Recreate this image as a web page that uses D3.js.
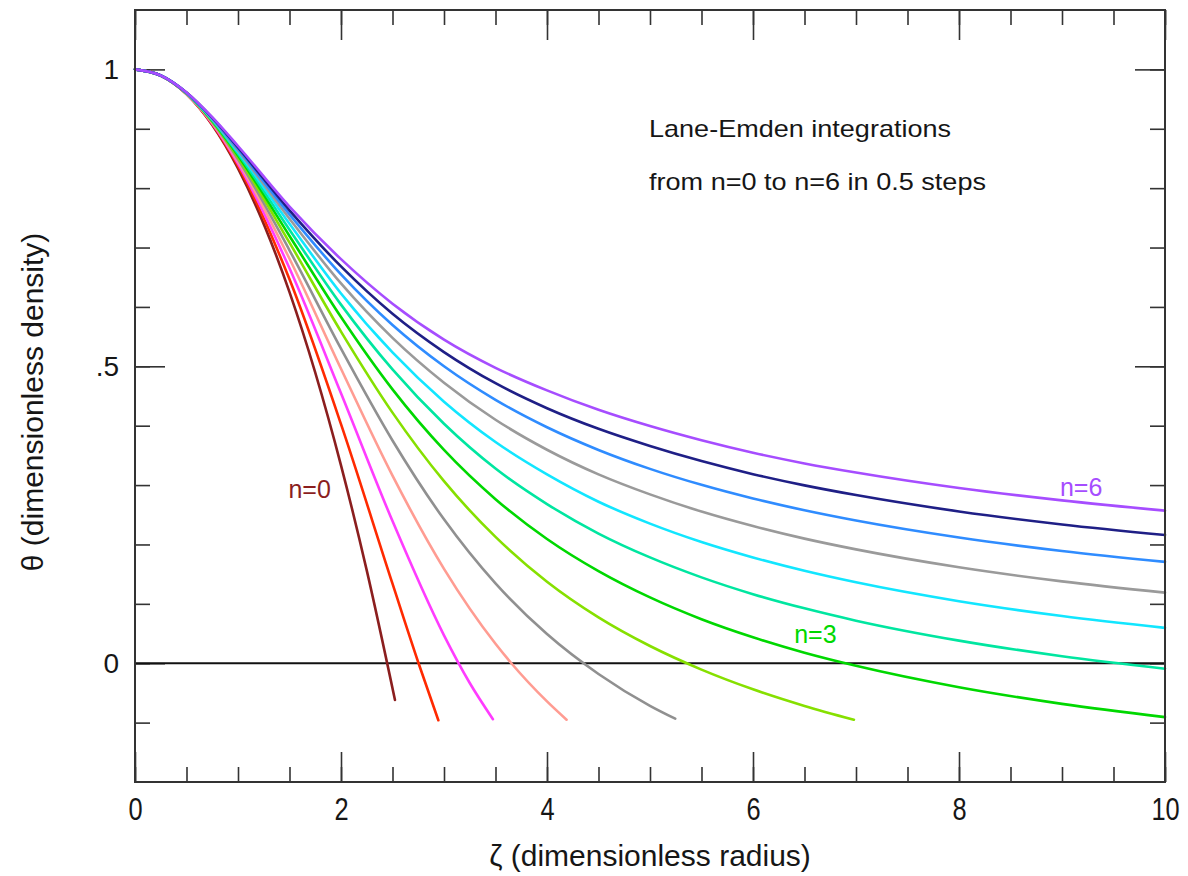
<!DOCTYPE html>
<html>
<head>
<meta charset="utf-8">
<script src="https://cdn.jsdelivr.net/npm/d3@7"></script>
<style>
  body { margin: 0; background: #fff; }
  svg { display: block; }
  text { font-family: "Liberation Sans", Arial, Helvetica, sans-serif; fill: #161616; }
</style>
</head>
<body>
<div id="chart"></div>
<script>
/* DATA: theta vs zeta, one array per index n */
const n0   = [[0,1],[0.25,0.9896],[0.5,0.9583],[0.75,0.9063],[1,0.8333],[1.5,0.625],[2,0.3333],[2.25,0.1563],[2.524,-0.0618]];
const n0_5 = [[0,1],[0.25,0.9896],[0.5,0.9586],[0.75,0.9076],[1,0.8375],[1.5,0.6465],[2,0.4026],[2.5,0.134],[2.753,0],[2.945,-0.096]];
const n1   = [[0,1],[0.25,0.9896],[0.5,0.9589],[0.75,0.9089],[1,0.8415],[1.5,0.665],[2,0.4546],[2.5,0.2394],[3,0.047],[3.25,-0.0333],[3.475,-0.0942]];
const n1_5 = [[0,1],[0.25,0.9896],[0.5,0.9591],[0.75,0.9101],[1,0.8452],[1.5,0.6811],[2,0.4959],[2.5,0.3159],[3,0.159],[3.5,0.0328],[3.654,0],[4,-0.0643],[4.19,-0.0951]];
const n2   = [[0,1],[0.25,0.9896],[0.5,0.9594],[0.75,0.9113],[1,0.8487],[1.5,0.6954],[2,0.5297],[2.5,0.3751],[3,0.2423],[3.5,0.1344],[4,0.0491],[4.5,-0.0181],[5,-0.0717],[5.245,-0.0934]];
const n2_5 = [[0,1],[0.25,0.9896],[0.5,0.9596],[0.75,0.9124],[1,0.8519],[1.5,0.7082],[2,0.5585],[2.5,0.422],[3,0.3066],[3.5,0.2127],[4,0.1372],[4.5,0.0772],[5,0.029],[5.5,-0.0107],[6,-0.0439],[6.5,-0.0719],[6.98,-0.0952]];
const n3   = [[0,1],[0.25,0.9896],[0.5,0.9598],[0.75,0.9136],[1,0.8551],[1.5,0.7195],[2,0.5829],[2.5,0.4611],[3,0.3592],[3.5,0.2763],[4,0.2092],[4.5,0.1551],[5,0.1108],[5.5,0.0741],[6,0.0437],[6.5,0.0177],[7,-0.0043],[8,-0.0404],[9,-0.0684],[10,-0.0908]];
const n3_5 = [[0,1],[0.25,0.9897],[0.5,0.9601],[0.75,0.9146],[1,0.858],[1.5,0.73],[2,0.6039],[2.5,0.4947],[3,0.4032],[3.5,0.3278],[4,0.268],[4.5,0.2184],[5,0.1782],[5.5,0.1446],[6,0.1163],[6.5,0.0924],[7,0.0717],[8,0.0381],[9,0.0118],[10,-0.0092]];
const n4   = [[0,1],[0.25,0.9897],[0.5,0.9604],[0.75,0.9157],[1,0.8608],[1.5,0.74],[2,0.6227],[2.5,0.5233],[3,0.4404],[3.5,0.3725],[4,0.318],[4.5,0.272],[5,0.2351],[5.5,0.2041],[6,0.1781],[6.5,0.1556],[7,0.1362],[8,0.1044],[9,0.0795],[10,0.0596]];
const n4_5 = [[0,1],[0.25,0.9897],[0.5,0.9605],[0.75,0.9167],[1,0.8635],[1.5,0.7485],[2,0.6395],[2.5,0.5479],[3,0.4724],[3.5,0.41],[4,0.3595],[4.5,0.318],[5,0.2843],[5.5,0.2554],[6,0.231],[6.5,0.2098],[7,0.1917],[8,0.1616],[9,0.1379],[10,0.1189]];
const n5   = [[0,1],[0.25,0.9897],[0.5,0.9608],[0.75,0.9177],[1,0.866],[1.5,0.7559],[2,0.6547],[2.5,0.5695],[3,0.5],[3.5,0.4435],[4,0.3974],[4.5,0.3592],[5,0.3273],[5.5,0.3004],[6,0.2774],[6.5,0.2575],[7,0.2402],[8,0.2116],[9,0.189],[10,0.1707]];
const n5_5 = [[0,1],[0.25,0.9898],[0.5,0.961],[0.75,0.9186],[1,0.8686],[1.5,0.7626],[2,0.6682],[2.5,0.5885],[3,0.524],[3.5,0.4715],[4,0.4294],[4.5,0.3947],[5,0.3658],[5.5,0.3404],[6,0.3184],[6.5,0.2995],[7,0.2832],[8,0.2556],[9,0.2337],[10,0.216]];
const n6   = [[0,1],[0.25,0.9898],[0.5,0.9612],[0.75,0.9196],[1,0.871],[1.5,0.7689],[2,0.6804],[2.5,0.6055],[3,0.545],[3.5,0.4975],[4,0.4594],[4.5,0.4267],[5,0.3993],[5.5,0.3754],[6,0.3544],[6.5,0.3365],[7,0.3212],[8,0.2951],[9,0.2742],[10,0.257]];

const series = [n0, n0_5, n1, n1_5, n2, n2_5, n3, n3_5, n4, n4_5, n5, n5_5, n6];
const indexNames = ["0", "0.5", "1", "1.5", "2", "2.5", "3", "3.5", "4", "4.5", "5", "5.5", "6"];
const colors = ["#8b1e1e", "#ff2a00", "#ff3cff", "#ff9c92", "#909090", "#86e000",
                "#00d800", "#00e6a0", "#12e6ff", "#9a9a9a", "#2f8cff", "#1f1f86", "#a64dff"];

const xMajor = [0, 2, 4, 6, 8, 10];
const yMajor = [0, 0.5, 1];
const yTickLabels = ["0", ".5", "1"];
const notes = ["Lane-Emden integrations", "from n=0 to n=6 in 0.5 steps"];

/* SETUP */
const width = 1188, height = 876;

const svg = d3.select("#chart").append("svg")
  .attr("width", width)
  .attr("height", height);

const xScale = d3.scaleLinear().domain([0, 10]).range([135, 1165]);
const yScale = d3.scaleLinear().domain([-0.2, 1.1]).range([782, 10]);

// minor + major ticks, all pointing inward
const xMinor = d3.range(0, 10.001, 0.5);
const yMinor = d3.range(-0.1, 1.05, 0.1);

function styleAxis(g) {
  g.select(".domain").remove();
  g.selectAll(".tick line").attr("stroke", "#333").attr("stroke-width", 1.6);
}

// bottom
svg.append("g").attr("transform", `translate(0,${yScale(-0.2)})`)
  .call(d3.axisBottom(xScale).tickValues(xMinor).tickSizeInner(-15).tickSizeOuter(0).tickFormat(""))
  .call(styleAxis);
svg.append("g").attr("transform", `translate(0,${yScale(-0.2)})`)
  .call(d3.axisBottom(xScale).tickValues(xMajor).tickSizeInner(-30).tickSizeOuter(0).tickPadding(16).tickFormat(d3.format("d")))
  .call(styleAxis)
  .call(g => g.selectAll("text").attr("font-size", 31).attr("fill", "#161616")
    .attr("transform", "scale(0.82,1)"));

// top
svg.append("g").attr("transform", `translate(0,${yScale(1.1)})`)
  .call(d3.axisTop(xScale).tickValues(xMinor).tickSizeInner(-15).tickSizeOuter(0).tickFormat(""))
  .call(styleAxis);
svg.append("g").attr("transform", `translate(0,${yScale(1.1)})`)
  .call(d3.axisTop(xScale).tickValues(xMajor).tickSizeInner(-30).tickSizeOuter(0).tickFormat(""))
  .call(styleAxis);

// left
svg.append("g").attr("transform", `translate(${xScale(0)},0)`)
  .call(d3.axisLeft(yScale).tickValues(yMinor).tickSizeInner(-15).tickSizeOuter(0).tickFormat(""))
  .call(styleAxis);
svg.append("g").attr("transform", `translate(${xScale(0)},0)`)
  .call(d3.axisLeft(yScale).tickValues(yMajor).tickSizeInner(-30).tickSizeOuter(0).tickPadding(16)
    .tickFormat((d, i) => yTickLabels[i]))
  .call(styleAxis)
  .call(g => g.selectAll("text").attr("font-size", 28).attr("fill", "#161616"));

// right
svg.append("g").attr("transform", `translate(${xScale(10)},0)`)
  .call(d3.axisRight(yScale).tickValues(yMinor).tickSizeInner(-15).tickSizeOuter(0).tickFormat(""))
  .call(styleAxis);
svg.append("g").attr("transform", `translate(${xScale(10)},0)`)
  .call(d3.axisRight(yScale).tickValues(yMajor).tickSizeInner(-30).tickSizeOuter(0).tickFormat(""))
  .call(styleAxis);

// zero line
svg.append("line")
  .attr("x1", xScale(0)).attr("x2", xScale(10))
  .attr("y1", yScale(0)).attr("y2", yScale(0))
  .attr("stroke", "#111").attr("stroke-width", 2);

// curves
const line = d3.line()
  .x(d => xScale(d[0]))
  .y(d => yScale(d[1]))
  .curve(d3.curveMonotoneX);

svg.append("g")
  .selectAll("path")
  .data(series)
  .join("path")
  .attr("d", line)
  .attr("fill", "none")
  .attr("stroke", (d, i) => colors[i])
  .attr("stroke-width", 2.6)
  .attr("stroke-linecap", "round");

// frame
svg.append("rect")
  .attr("x", xScale(0)).attr("y", yScale(1.1))
  .attr("width", xScale(10) - xScale(0))
  .attr("height", yScale(-0.2) - yScale(1.1))
  .attr("fill", "none").attr("stroke", "#333").attr("stroke-width", 2);

// curve labels: [series index, zeta, theta] of the text baseline start
const labelAt = [[0, 1.49, 0.279], [6, 6.4, 0.034], [12, 8.98, 0.281]];
svg.selectAll(".clabel")
  .data(labelAt)
  .join("text")
  .attr("class", "clabel")
  .attr("x", d => xScale(d[1]))
  .attr("y", d => yScale(d[2]))
  .attr("font-size", 25)
  .style("fill", d => colors[d[0]])
  .text(d => "n=" + indexNames[d[0]]);

// annotation
const noteWidths = [302, 337];
svg.selectAll(".note")
  .data(notes)
  .join("text")
  .attr("class", "note")
  .attr("x", xScale(5) - 1)
  .attr("y", (d, i) => 137 + i * 53)
  .attr("font-size", 24)
  .attr("textLength", (d, i) => noteWidths[i])
  .attr("lengthAdjust", "spacingAndGlyphs")
  .text(d => d);

// axis titles
svg.append("text")
  .attr("x", xScale(5)).attr("y", 866)
  .attr("text-anchor", "middle")
  .attr("font-size", 30)
  .text("ζ (dimensionless radius)");

svg.append("text")
  .attr("transform", `translate(43,${yScale(0.44)}) rotate(-90)`)
  .attr("text-anchor", "middle")
  .attr("font-size", 30)
  .text("θ (dimensionless density)");
</script>
</body>
</html>
